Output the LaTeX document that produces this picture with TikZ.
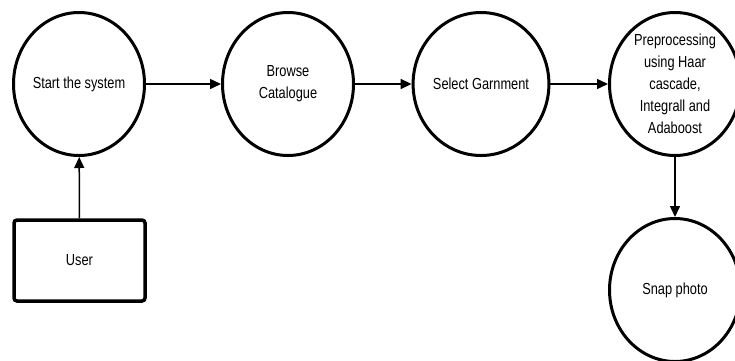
\documentclass[tikz,border=0pt]{standalone}
\usepackage{fontspec}
\setmainfont{Liberation Sans}[FakeStretch=0.8]
\usetikzlibrary{shapes.geometric,arrows.meta}
\begin{document}
\begin{tikzpicture}[x=1pt,y=-1pt,
  proc/.style={ellipse,draw,line width=3pt,minimum width=131pt,minimum height=143pt,inner sep=0pt,align=center,font=\fontsize{16}{22}\selectfont},
  actor/.style={draw,line width=3.5pt,rounded corners=3pt,minimum width=131pt,minimum height=81pt,inner sep=0pt,font=\fontsize{16}{22}\selectfont},
  flow/.style={line width=1.5pt,-{Triangle[length=11pt,width=10pt]}}]
\useasboundingbox (0,0) rectangle (735,360);
\node[proc] (start) at (79,84) {Start the system};
\node[proc] (browse) at (288,84) {Browse\\Catalogue};
\node[proc] (select) at (481,84) {Select Garnment};
\node[proc] (pre) at (675,84) {Preprocessing\\using Haar\\cascade,\\Integrall and\\Adaboost};
\node[proc] (snap) at (675,290) {Snap photo};
\node[actor] (user) at (79.5,260.5) {User};
\draw[flow] (start) -- (browse);
\draw[flow] (browse) -- (select);
\draw[flow] (select) -- (pre);
\draw[flow] (pre) -- (snap);
\draw[flow] (user) -- (start);
\end{tikzpicture}
\end{document}
